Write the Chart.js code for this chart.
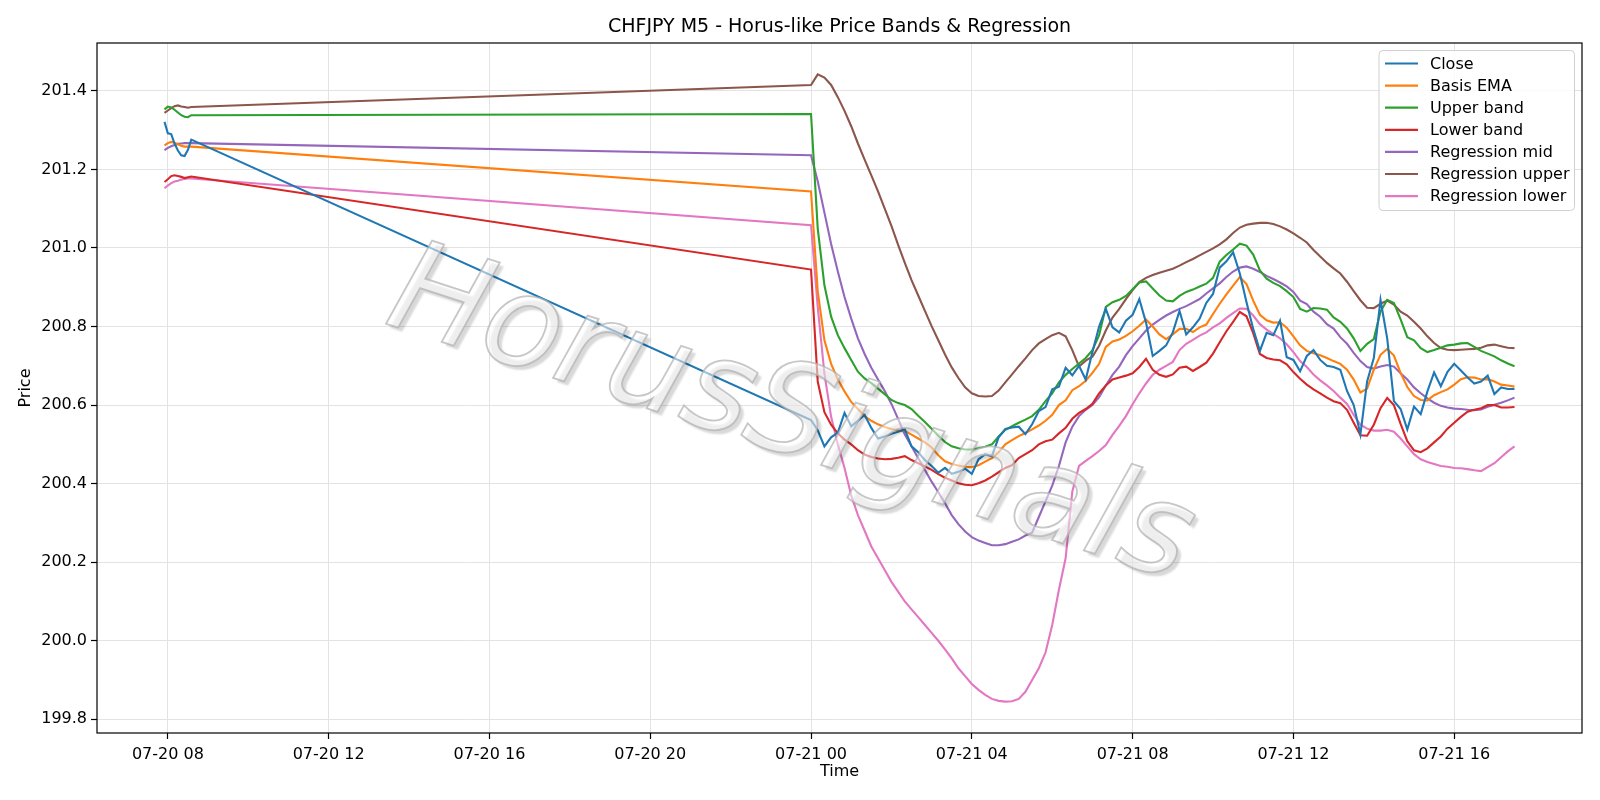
<!DOCTYPE html>
<html>
<head>
<meta charset="utf-8">
<script src="https://cdn.jsdelivr.net/npm/chart.js@4.4.1/dist/chart.umd.min.js"></script>
<style>
  html, body { margin: 0; padding: 0; background: #fff; }
  canvas { display: block; }
</style>
</head>
<body>
<canvas id="bandsChart" width="1600" height="800"></canvas>
<script>
// sample times (07-20 morning, then 07-21 every 10 minutes)
const times = [
  '07-20 07:55', '07-20 08:00', '07-20 08:05', '07-20 08:10', '07-20 08:15', '07-20 08:20', '07-20 08:25', '07-20 08:30', '07-20 08:35',
  '07-21 00:00', '07-21 00:10', '07-21 00:20', '07-21 00:30', '07-21 00:40', '07-21 00:50',
  '07-21 01:00', '07-21 01:10', '07-21 01:20', '07-21 01:30', '07-21 01:40', '07-21 01:50',
  '07-21 02:00', '07-21 02:10', '07-21 02:20', '07-21 02:30', '07-21 02:40', '07-21 02:50',
  '07-21 03:00', '07-21 03:10', '07-21 03:20', '07-21 03:30', '07-21 03:40', '07-21 03:50',
  '07-21 04:00', '07-21 04:10', '07-21 04:20', '07-21 04:30', '07-21 04:40', '07-21 04:50',
  '07-21 05:00', '07-21 05:10', '07-21 05:20', '07-21 05:30', '07-21 05:40', '07-21 05:50',
  '07-21 06:00', '07-21 06:10', '07-21 06:20', '07-21 06:30', '07-21 06:40', '07-21 06:50',
  '07-21 07:00', '07-21 07:10', '07-21 07:20', '07-21 07:30', '07-21 07:40', '07-21 07:50',
  '07-21 08:00', '07-21 08:10', '07-21 08:20', '07-21 08:30', '07-21 08:40', '07-21 08:50',
  '07-21 09:00', '07-21 09:10', '07-21 09:20', '07-21 09:30', '07-21 09:40', '07-21 09:50',
  '07-21 10:00', '07-21 10:10', '07-21 10:20', '07-21 10:30', '07-21 10:40', '07-21 10:50',
  '07-21 11:00', '07-21 11:10', '07-21 11:20', '07-21 11:30', '07-21 11:40', '07-21 11:50',
  '07-21 12:00', '07-21 12:10', '07-21 12:20', '07-21 12:30', '07-21 12:40', '07-21 12:50',
  '07-21 13:00', '07-21 13:10', '07-21 13:20', '07-21 13:30', '07-21 13:40', '07-21 13:50',
  '07-21 14:00', '07-21 14:10', '07-21 14:20', '07-21 14:30', '07-21 14:40', '07-21 14:50',
  '07-21 15:00', '07-21 15:10', '07-21 15:20', '07-21 15:30', '07-21 15:40', '07-21 15:50',
  '07-21 16:00', '07-21 16:10', '07-21 16:20', '07-21 16:30', '07-21 16:40', '07-21 16:50',
  '07-21 17:00', '07-21 17:10', '07-21 17:20', '07-21 17:30'
];

const close = [
  201.321, 201.292, 201.290, 201.266, 201.248, 201.236, 201.234, 201.250, 201.276,
  200.562, 200.536, 200.495, 200.518, 200.530, 200.580, 200.546, 200.560, 200.575, 200.542,
  200.515, 200.520, 200.527, 200.532, 200.538, 200.495, 200.480, 200.460, 200.445, 200.428,
  200.440, 200.425, 200.430, 200.438, 200.425, 200.462, 200.475, 200.470, 200.518, 200.539,
  200.543, 200.545, 200.526, 200.551, 200.585, 200.595, 200.640, 200.647, 200.695, 200.676,
  200.700, 200.665, 200.735, 200.800, 200.845, 200.798, 200.785, 200.815, 200.830, 200.870,
  200.810, 200.725, 200.738, 200.752, 200.785, 200.840, 200.780, 200.798, 200.820, 200.860,
  200.883, 200.950, 200.966, 200.989, 200.935, 200.862, 200.794, 200.738, 200.784, 200.778,
  200.815, 200.722, 200.715, 200.686, 200.725, 200.740, 200.715, 200.700, 200.697, 200.690,
  200.636, 200.600, 200.525, 200.660, 200.720, 200.868, 200.770, 200.610, 200.590, 200.538,
  200.596, 200.577, 200.635, 200.683, 200.648, 200.685, 200.705, 200.688, 200.670, 200.655,
  200.660, 200.675, 200.628, 200.645, 200.641, 200.641
];

const basisEma = [
  201.261, 201.267, 201.270, 201.268, 201.264, 201.260, 201.258, 201.258, 201.258,
  201.144, 200.890, 200.765, 200.705, 200.665, 200.635, 200.608, 200.590, 200.572, 200.560,
  200.551, 200.544, 200.539, 200.536, 200.534, 200.525, 200.515, 200.505, 200.492, 200.472,
  200.457, 200.450, 200.446, 200.443, 200.442, 200.447, 200.456, 200.465, 200.480, 200.500,
  200.511, 200.521, 200.529, 200.538, 200.548, 200.560, 200.575, 200.600, 200.612, 200.638,
  200.648, 200.662, 200.682, 200.705, 200.748, 200.762, 200.767, 200.776, 200.788, 200.802,
  200.818, 200.800, 200.780, 200.768, 200.780, 200.794, 200.794, 200.786, 200.798, 200.805,
  200.832, 200.858, 200.882, 200.904, 200.926, 200.908, 200.866, 200.830, 200.816, 200.810,
  200.811, 200.797, 200.775, 200.752, 200.738, 200.732, 200.727, 200.720, 200.712, 200.705,
  200.690, 200.665, 200.632, 200.642, 200.690, 200.728, 200.743, 200.726, 200.682, 200.646,
  200.623, 200.613, 200.612, 200.625, 200.633, 200.640, 200.652, 200.666, 200.671, 200.670,
  200.665, 200.666, 200.660, 200.652, 200.650, 200.647
];

const upperBand = [
  201.353, 201.360, 201.358, 201.352, 201.345, 201.338, 201.334, 201.333, 201.338,
  201.341, 201.050, 200.905, 200.825, 200.778, 200.745, 200.715, 200.685, 200.668, 200.656,
  200.642, 200.628, 200.613, 200.605, 200.600, 200.590, 200.573, 200.557, 200.540, 200.522,
  200.506, 200.495, 200.490, 200.487, 200.487, 200.490, 200.494, 200.500, 200.520, 200.537,
  200.546, 200.555, 200.563, 200.572, 200.588, 200.610, 200.630, 200.658, 200.677, 200.692,
  200.706, 200.720, 200.740, 200.778, 200.850, 200.862, 200.868, 200.878, 200.895, 200.912,
  200.915, 200.897, 200.879, 200.866, 200.864, 200.878, 200.888, 200.894, 200.902, 200.909,
  200.924, 200.965, 200.982, 200.996, 201.011, 201.006, 200.983, 200.943, 200.922, 200.911,
  200.903, 200.890, 200.875, 200.845, 200.838, 200.847, 200.846, 200.843, 200.823, 200.812,
  200.795, 200.770, 200.738, 200.756, 200.768, 200.838, 200.868, 200.860, 200.818, 200.773,
  200.765, 200.745, 200.735, 200.740, 200.746, 200.752, 200.754, 200.757, 200.758, 200.748,
  200.738, 200.731, 200.724, 200.714, 200.706, 200.699
];

const lowerBand = [
  201.168, 201.175, 201.183, 201.185, 201.183, 201.181, 201.178, 201.180, 201.182,
  200.945, 200.660, 200.582, 200.550, 200.528, 200.512, 200.500, 200.485, 200.474, 200.468,
  200.464, 200.462, 200.463, 200.466, 200.470, 200.460, 200.452, 200.444, 200.435, 200.424,
  200.415, 200.408, 200.401, 200.397, 200.396, 200.401, 200.408, 200.418, 200.429, 200.440,
  200.447, 200.465, 200.475, 200.485, 200.500, 200.508, 200.512, 200.528, 200.542, 200.565,
  200.580, 200.590, 200.603, 200.630, 200.650, 200.665, 200.670, 200.675, 200.681, 200.697,
  200.718, 200.690, 200.677, 200.672, 200.678, 200.695, 200.698, 200.687, 200.697, 200.708,
  200.731, 200.760, 200.788, 200.812, 200.837, 200.826, 200.783, 200.730, 200.720, 200.716,
  200.714, 200.704, 200.684, 200.667, 200.652, 200.640, 200.630, 200.619, 200.610, 200.605,
  200.588, 200.555, 200.523, 200.522, 200.550, 200.592, 200.618, 200.600, 200.552, 200.508,
  200.485, 200.480, 200.490, 200.505, 200.520, 200.540, 200.555, 200.570, 200.583, 200.588,
  200.592, 200.600, 200.600, 200.594, 200.594, 200.595
];

const regMid = [
  201.249, 201.255, 201.259, 201.262, 201.265, 201.266, 201.267, 201.267, 201.267,
  201.236, 201.170, 201.090, 201.010, 200.940, 200.875, 200.820, 200.770, 200.730, 200.695,
  200.665, 200.636, 200.603, 200.565, 200.525, 200.495, 200.465, 200.435, 200.405, 200.378,
  200.350, 200.320, 200.297, 200.278, 200.264, 200.255, 200.249, 200.243, 200.243, 200.246,
  200.252, 200.258, 200.268, 200.275, 200.315, 200.355, 200.395, 200.445, 200.505, 200.545,
  200.572, 200.588, 200.600, 200.620, 200.650, 200.677, 200.698, 200.727, 200.750, 200.770,
  200.790, 200.805, 200.817, 200.828, 200.837, 200.845, 200.852, 200.861, 200.870, 200.884,
  200.897, 200.910, 200.926, 200.940, 200.950, 200.953, 200.947, 200.939, 200.929, 200.921,
  200.912, 200.902, 200.888, 200.866, 200.857, 200.838, 200.825, 200.806, 200.795, 200.773,
  200.756, 200.733, 200.712, 200.697, 200.693, 200.698, 200.702, 200.698, 200.681, 200.665,
  200.645, 200.630, 200.617, 200.606, 200.598, 200.594, 200.591, 200.590, 200.588, 200.587,
  200.589, 200.596, 200.601, 200.606, 200.612, 200.619
];

const regUpper = [
  201.344, 201.350, 201.356, 201.361, 201.363, 201.360, 201.359, 201.357, 201.359,
  201.415, 201.442, 201.434, 201.415, 201.384, 201.349, 201.310, 201.266, 201.225, 201.185,
  201.144, 201.100, 201.056, 201.008, 200.962, 200.918, 200.879, 200.840, 200.801, 200.765,
  200.729, 200.696, 200.669, 200.645, 200.630, 200.623, 200.622, 200.623, 200.637, 200.658,
  200.678, 200.699, 200.719, 200.740, 200.757, 200.768, 200.778, 200.784, 200.775, 200.740,
  200.698, 200.713, 200.723, 200.751, 200.790, 200.823, 200.845, 200.870, 200.893, 200.913,
  200.924, 200.931, 200.937, 200.942, 200.947, 200.955, 200.964, 200.972, 200.981, 200.990,
  200.999, 201.009, 201.022, 201.038, 201.052, 201.059, 201.062, 201.064, 201.064, 201.061,
  201.055, 201.047, 201.037, 201.026, 201.014, 200.995, 200.978, 200.962, 200.948, 200.935,
  200.914, 200.890, 200.867, 200.848, 200.847, 200.858, 200.866, 200.856, 200.838, 200.828,
  200.812, 200.795, 200.775, 200.758, 200.745, 200.741, 200.740, 200.741, 200.742, 200.743,
  200.746, 200.752, 200.754, 200.750, 200.746, 200.745
];

const regLower = [
  201.152, 201.159, 201.165, 201.169, 201.171, 201.174, 201.176, 201.177, 201.177,
  201.058, 200.850, 200.680, 200.570, 200.500, 200.440, 200.370, 200.320, 200.280, 200.240,
  200.210, 200.180, 200.150, 200.125, 200.100, 200.080, 200.060, 200.040, 200.020, 200.000,
  199.978, 199.955, 199.930, 199.910, 199.890, 199.875, 199.862, 199.852, 199.847, 199.845,
  199.846, 199.852, 199.870, 199.900, 199.930, 199.970, 200.040, 200.130, 200.210, 200.380,
  200.445, 200.458, 200.470, 200.483, 200.498, 200.524, 200.547, 200.572, 200.602, 200.630,
  200.655, 200.677, 200.690, 200.700, 200.710, 200.740, 200.756, 200.766, 200.777, 200.785,
  200.798, 200.808, 200.822, 200.834, 200.846, 200.845, 200.828, 200.806, 200.792, 200.781,
  200.770, 200.755, 200.735, 200.712, 200.697, 200.678, 200.663, 200.650, 200.636, 200.619,
  200.603, 200.575, 200.550, 200.540, 200.535, 200.535, 200.537, 200.532, 200.515, 200.495,
  200.475, 200.462, 200.455, 200.450, 200.445, 200.443, 200.440, 200.439, 200.437, 200.434,
  200.432, 200.442, 200.452, 200.467, 200.482, 200.495
];

const xTickHours = [8, 12, 16, 20, 24, 28, 32, 36, 40];
const xTickLabels = ['07-20 08', '07-20 12', '07-20 16', '07-20 20', '07-21 00', '07-21 04', '07-21 08', '07-21 12', '07-21 16'];
const yTicks = [199.8, 200.0, 200.2, 200.4, 200.6, 200.8, 201.0, 201.2, 201.4];

const seriesNames = ['Close', 'Basis EMA', 'Upper band', 'Lower band', 'Regression mid', 'Regression upper', 'Regression lower'];
const seriesColors = ['#1f77b4', '#ff7f0e', '#2ca02c', '#d62728', '#9467bd', '#8c564b', '#e377c2'];
const seriesValues = [close, basisEma, upperBand, lowerBand, regMid, regUpper, regLower];

// 'MM-DD HH:MM' -> hours since 07-20 00:00
function toHours(label) {
  const day = +label.slice(3, 5), hh = +label.slice(6, 8), mm = +label.slice(9, 11);
  return (day - 20) * 24 + hh + mm / 60;
}
const xs = times.map(toHours);

// matplotlib-like 5% margins
const xMinData = Math.min(...xs), xMaxData = Math.max(...xs);
const xPad = (xMaxData - xMinData) * 0.05;
const allY = seriesValues.flat();
const yMinData = Math.min(...allY), yMaxData = Math.max(...allY);
const yPad = (yMaxData - yMinData) * 0.05;

const FONT = 'DejaVu Sans';
Chart.defaults.font.family = FONT;
Chart.defaults.font.size = 16;
Chart.defaults.color = '#000';

const framePlugin = {
  id: 'frame',
  afterDatasetsDraw(chart) {
    const { ctx, chartArea: a } = chart;

    // watermark
    ctx.save();
    ctx.translate(790, 420);
    ctx.rotate(18 * Math.PI / 180);
    ctx.font = 'italic 128px "DejaVu Sans"';
    ctx.textAlign = 'center';
    ctx.textBaseline = 'middle';
    ctx.shadowColor = 'rgba(0,0,0,0.28)';
    ctx.shadowOffsetX = 4;
    ctx.shadowOffsetY = 4;
    ctx.shadowBlur = 2;
    ctx.fillStyle = 'rgba(255,255,255,0.55)';
    ctx.fillText('HorusSignals', 0, 0);
    ctx.shadowColor = 'transparent';
    ctx.lineWidth = 1.8;
    ctx.strokeStyle = 'rgba(175,175,175,0.7)';
    ctx.strokeText('HorusSignals', 0, 0);
    ctx.restore();

    // axes box
    ctx.save();
    ctx.strokeStyle = '#000';
    ctx.lineWidth = 1.2;
    ctx.strokeRect(a.left, a.top, a.right - a.left, a.bottom - a.top);
    ctx.restore();
  },
  afterDraw(chart) {
    const { ctx, chartArea: a } = chart;

    // title
    ctx.save();
    ctx.font = '19px "DejaVu Sans"';
    ctx.fillStyle = '#000';
    ctx.textAlign = 'center';
    ctx.textBaseline = 'middle';
    ctx.fillText('CHFJPY M5 - Horus-like Price Bands & Regression', (a.left + a.right) / 2, 27);
    ctx.restore();

    // legend, upper right
    const bx = 1379, by = 50.5, bw = 195.5, bh = 160;
    ctx.save();
    ctx.beginPath();
    ctx.roundRect(bx, by, bw, bh, 4);
    ctx.fillStyle = 'rgba(255,255,255,0.8)';
    ctx.fill();
    ctx.strokeStyle = '#d0d0d0';
    ctx.lineWidth = 1;
    ctx.stroke();
    ctx.font = '16px "DejaVu Sans"';
    ctx.textBaseline = 'middle';
    chart.data.datasets.forEach((ds, i) => {
      const y = 63.5 + i * 22.1;
      ctx.strokeStyle = ds.borderColor;
      ctx.lineWidth = 2.2;
      ctx.beginPath();
      ctx.moveTo(1385, y);
      ctx.lineTo(1418, y);
      ctx.stroke();
      ctx.fillStyle = '#000';
      ctx.fillText(ds.label, 1430, y + 1);
    });
    ctx.restore();
  }
};

const ctx = document.getElementById('bandsChart').getContext('2d');

new Chart(ctx, {
  type: 'line',
  data: {
    datasets: seriesValues.map((vals, i) => ({
      label: seriesNames[i],
      data: vals.map((v, j) => ({ x: xs[j], y: v })),
      borderColor: seriesColors[i],
      backgroundColor: seriesColors[i],
      borderWidth: 2.1,
      pointRadius: 0,
      tension: 0,
      fill: false
    }))
  },
  options: {
    responsive: false,
    animation: false,
    devicePixelRatio: 1,
    layout: { padding: { top: 43, right: 18, left: 0, bottom: 0 } },
    plugins: {
      legend: { display: false },
      title: { display: false },
      tooltip: { enabled: false }
    },
    scales: {
      x: {
        type: 'linear',
        min: xMinData - xPad,
        max: xMaxData + xPad,
        afterBuildTicks: axis => { axis.ticks = xTickHours.map(v => ({ value: v })); },
        afterFit: axis => { axis.height = 67; },
        ticks: {
          autoSkip: false,
          maxRotation: 0,
          padding: 6,
          callback: (v, i) => xTickLabels[i]
        },
        grid: { color: '#e3e3e3', lineWidth: 1, tickLength: 6, tickColor: '#000', tickWidth: 1.2 },
        border: { display: false },
        title: { display: true, text: 'Time', padding: { top: 0, bottom: 19 } }
      },
      y: {
        type: 'linear',
        min: yMinData - yPad,
        max: yMaxData + yPad,
        afterBuildTicks: axis => { axis.ticks = yTicks.map(v => ({ value: v })); },
        afterFit: axis => { axis.width = 97; },
        ticks: {
          padding: 4,
          callback: v => v.toFixed(1)
        },
        grid: { color: '#e3e3e3', lineWidth: 1, tickLength: 6, tickColor: '#000', tickWidth: 1.2 },
        border: { display: false },
        title: { display: true, text: 'Price', padding: { top: 16, bottom: 0 } }
      }
    }
  },
  plugins: [framePlugin]
});
</script>
</body>
</html>
